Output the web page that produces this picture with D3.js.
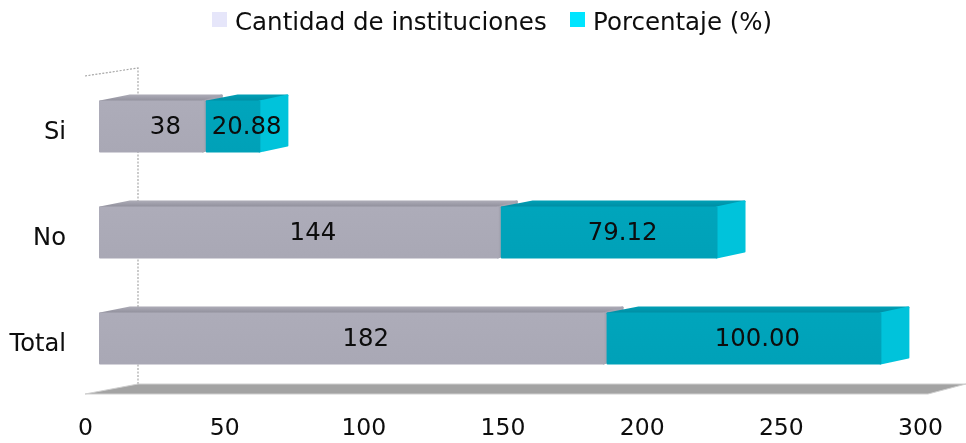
<!DOCTYPE html>
<html>
<head>
<meta charset="utf-8">
<script src="https://cdn.jsdelivr.net/npm/d3@7"></script>
<style>
  html, body { margin: 0; padding: 0; background: #fff; }
  svg { display: block; }
  text { font-family: "DejaVu Sans", sans-serif; fill: #0a0a0a; }
</style>
</head>
<body>
<svg id="chart" width="966" height="443"></svg>
<script>
const categories = ["Si", "No", "Total"];
const cantidad = [38, 144, 182];
const porcentaje = [20.88, 79.12, 100.00];
const xTicks = [0, 50, 100, 150, 200, 250, 300];
const seriesNames = ["Cantidad de instituciones", "Porcentaje (%)"];

const svg = d3.select("#chart");

const x = d3.scaleLinear().domain([0, 300]).range([85, 920]);
const y = d3.scalePoint().domain(categories).range([126.5, 338.5]);

const barH = 52;      // height of the front face
const shift = 14;     // bars stand a bit behind the floor's front edge
const dy = -6;        // depth of the fake 3d

// gradients for the faces
const defs = svg.append("defs");
function gradient(id, c1, c2) {
  const g = defs.append("linearGradient").attr("id", id)
    .attr("x1", 0).attr("y1", 0).attr("x2", 0).attr("y2", 1);
  g.append("stop").attr("offset", 0).attr("stop-color", c1);
  g.append("stop").attr("offset", 1).attr("stop-color", c2);
}
gradient("grayTop", "#a9a8b3", "#8d8c99");
gradient("tealTop", "#009db3", "#008ba1");
gradient("grayFront", "#adacb9", "#a9a8b5");
gradient("tealFront", "#00a5bc", "#00a1b8");

const blur = defs.append("filter").attr("id", "soft");
blur.append("feGaussianBlur").attr("stdDeviation", 0.5);

const plot = svg.append("g").attr("filter", "url(#soft)");

// back wall edges
plot.append("path")
  .attr("d", d3.line()([[x(0), 76], [x(0) + 53, 68], [x(0) + 53, 384]]))
  .attr("fill", "none")
  .attr("stroke", "#a8a8a8")
  .attr("stroke-width", 1.2)
  .attr("stroke-dasharray", "2 1.5");

// floor
plot.append("path")
  .attr("d", d3.line()([[x(0), 394], [x(0) + 53, 384], [966, 384], [x(300) + 8, 394]]) + "Z")
  .attr("fill", "#a3a3a3")
  .attr("stroke", "#cfcfcf")
  .attr("stroke-width", 1);

function drawBar(g, x0, x1, yc, o) {
  const y0 = yc - barH / 2 + 1;
  const y1 = yc + barH / 2 - 1;
  const faces = [
    { fill: `url(#${o.top})`, pts: [[x0, y0], [x0 + o.dxL, y0 + dy], [x1 + o.dxR, y0 + dy], [x1, y0]] },
    { fill: o.side, pts: [[x1, y0], [x1 + o.dxR, y0 + dy], [x1 + o.dxR, y1 + dy], [x1, y1]] },
    { fill: `url(#${o.front})`, pts: [[x0, y0], [x1, y0], [x1, y1], [x0, y1]] }
  ];
  g.selectAll(null)
    .data(faces)
    .enter()
    .append("path")
    .attr("d", d => d3.line()(d.pts) + "Z")
    .attr("fill", d => d.fill)
    .attr("stroke", d => d.fill)
    .attr("stroke-width", 2)
    .attr("stroke-linejoin", "round");
}

const grayStyle = { top: "grayTop", front: "grayFront", side: "#a5a4b1", dxL: 30, dxR: 19 };
const tealStyle = { top: "tealTop", front: "tealFront", side: "#00c3db", dxL: 31, dxR: 28 };

categories.forEach((c, i) => {
  const g = plot.append("g");
  const start = x(0) + shift + 1;
  const mid = x(cantidad[i]) + shift;
  const end = mid + (x(porcentaje[i]) - x(0)) - 2.5;
  drawBar(g, start, mid - 2, y(c), grayStyle);
  drawBar(g, mid + 2, end - 1, y(c), tealStyle);
  g.append("text")
    .attr("x", (start + mid) / 2 + 13)
    .attr("y", y(c) - 1.5)
    .attr("text-anchor", "middle")
    .attr("dominant-baseline", "central")
    .attr("font-size", 24.4)
    .text(cantidad[i]);
  g.append("text")
    .attr("x", (mid + end) / 2 + 14)
    .attr("y", y(c) - 1.5)
    .attr("text-anchor", "middle")
    .attr("dominant-baseline", "central")
    .attr("font-size", 24.4)
    .text(porcentaje[i].toFixed(2));
});

// category labels
plot.selectAll(".cat")
  .data(categories)
  .enter()
  .append("text")
  .attr("class", "cat")
  .attr("x", 66)
  .attr("y", d => y(d) + 4.5)
  .attr("text-anchor", "end")
  .attr("dominant-baseline", "central")
  .attr("font-size", 24.2)
  .text(d => d);

// x axis, labels only
const axis = plot.append("g")
  .attr("transform", "translate(0,418)")
  .call(d3.axisBottom(x).tickValues(xTicks).tickSize(0).tickPadding(0));
axis.select(".domain").remove();
axis.selectAll("text")
  .attr("font-size", 23.5)
  .attr("font-family", "DejaVu Sans, sans-serif")
  .attr("fill", "#0a0a0a");

// legend
const legendX = [212, 570];
const legendColors = ["#e6e6fa", "#00e5ff"];
const legend = plot.selectAll(".leg")
  .data(seriesNames)
  .enter()
  .append("g")
  .attr("class", "leg");
legend.append("rect")
  .attr("x", (d, i) => legendX[i])
  .attr("y", 12)
  .attr("width", 15)
  .attr("height", 15)
  .attr("fill", (d, i) => legendColors[i]);
legend.append("text")
  .attr("x", (d, i) => legendX[i] + 23)
  .attr("y", 21)
  .attr("dominant-baseline", "central")
  .attr("font-size", 24.5)
  .text(d => d);
</script>
</body>
</html>
